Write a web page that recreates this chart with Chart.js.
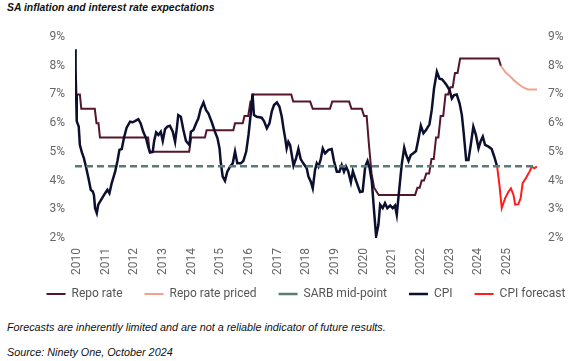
<!DOCTYPE html>
<html>
<head>
<meta charset="utf-8">
<title>SA inflation and interest rate expectations</title>
<script src="https://cdn.jsdelivr.net/npm/chart.js@4.4.1/dist/chart.umd.min.js"></script>
<style>
  html, body { margin: 0; padding: 0; background: #fff; }
  body {
    width: 577px; height: 361px; position: relative; overflow: hidden;
    font-family: "Liberation Sans Narrow", "Liberation Sans", Arial, sans-serif;
    color: #111;
  }
  .title { position: absolute; left: 7px; top: 1px; line-height: 14px; font-size: 10.4px; font-weight: bold; font-style: italic; white-space: nowrap; }
  .note { position: absolute; left: 7px; line-height: 14px; font-size: 10.8px; font-style: italic; white-space: nowrap; }
  #chart-box { position: absolute; left: 0; top: 0; width: 577px; height: 320px; }
</style>
</head>
<body>
<div class="title">SA inflation and interest rate expectations</div>
<div id="chart-box"><canvas id="rates"></canvas></div>
<div class="note" style="top:320px">Forecasts are inherently limited and are not a reliable indicator of future results.</div>
<div class="note" style="top:345px">Source: Ninety One, October 2024</div>

<script>
// Year labels on the x axis
const yearLabels = [2010, 2011, 2012, 2013, 2014, 2015, 2016, 2017, 2018, 2019, 2020, 2021, 2022, 2023, 2024, 2025];
const percentTicks = [2, 3, 4, 5, 6, 7, 8, 9];

// Repo rate (%)
const repoYears = [2009.93, 2010.10, 2010.15, 2010.62, 2010.68, 2010.75, 2010.80, 2012.48, 2012.53, 2013.91,
  2013.98, 2014.46, 2014.52, 2015.45, 2015.51, 2015.78, 2015.84, 2015.97, 2016.05, 2016.10,
  2016.15, 2017.47, 2017.54, 2018.13, 2018.22, 2018.82, 2018.90, 2019.49, 2019.57, 2019.93,
  2020.01, 2020.10, 2020.18, 2020.27, 2020.36, 2020.52, 2021.79, 2021.87, 2021.95, 2022.02,
  2022.10, 2022.18, 2022.28, 2022.36, 2022.44, 2022.52, 2022.60, 2022.68, 2022.77, 2022.85,
  2022.94, 2023.02, 2023.10, 2023.18, 2023.27, 2023.36, 2024.70, 2024.78];
const repoValues = [7.0, 7.0, 6.5, 6.5, 6.0, 6.0, 5.5, 5.5, 5.0, 5.0,
  5.5, 5.5, 5.75, 5.75, 6.0, 6.0, 6.25, 6.25, 6.75, 6.75,
  7.0, 7.0, 6.75, 6.75, 6.5, 6.5, 6.75, 6.75, 6.5, 6.5,
  6.25, 6.25, 5.25, 4.25, 3.75, 3.5, 3.5, 3.75, 3.75, 4.0,
  4.0, 4.25, 4.25, 4.75, 4.75, 5.5, 5.5, 6.25, 6.25, 7.0,
  7.0, 7.25, 7.25, 7.75, 7.75, 8.25, 8.25, 8.0];

// Market-priced repo path
const pricedYears = [2024.78, 2024.86, 2024.95, 2025.05, 2025.15, 2025.25, 2025.35, 2025.45, 2025.55, 2025.65, 2025.75, 2026.04];
const pricedValues = [8.0, 7.88, 7.76, 7.68, 7.58, 7.48, 7.40, 7.32, 7.25, 7.20, 7.17, 7.17];

// SARB inflation target mid-point
const sarbYears = [2009.93, 2026.04];
const sarbValues = [4.5, 4.5];

// Headline CPI (% y/y)
const cpiYears = [2009.93, 2009.95, 2009.97, 2009.99, 2010.06, 2010.10, 2010.17, 2010.24, 2010.31, 2010.40,
  2010.48, 2010.55, 2010.59, 2010.63, 2010.69, 2010.74, 2010.86, 2010.98, 2011.06, 2011.13,
  2011.21, 2011.33, 2011.41, 2011.48, 2011.56, 2011.64, 2011.73, 2011.85, 2011.94, 2012.02,
  2012.14, 2012.22, 2012.31, 2012.41, 2012.49, 2012.55, 2012.64, 2012.69, 2012.76, 2012.84,
  2012.92, 2012.99, 2013.07, 2013.15, 2013.24, 2013.34, 2013.42, 2013.48, 2013.53, 2013.62,
  2013.71, 2013.80, 2013.92, 2013.97, 2014.06, 2014.15, 2014.23, 2014.31, 2014.41, 2014.50,
  2014.58, 2014.70, 2014.81, 2014.90, 2014.97, 2015.01, 2015.08, 2015.16, 2015.24, 2015.34,
  2015.43, 2015.51, 2015.59, 2015.71, 2015.80, 2015.90, 2015.98, 2016.06, 2016.12, 2016.17,
  2016.27, 2016.44, 2016.52, 2016.62, 2016.71, 2016.79, 2016.87, 2016.97, 2017.06, 2017.14,
  2017.20, 2017.26, 2017.31, 2017.37, 2017.43, 2017.49, 2017.55, 2017.64, 2017.72, 2017.80,
  2017.89, 2018.01, 2018.07, 2018.15, 2018.22, 2018.30, 2018.36, 2018.42, 2018.50, 2018.57,
  2018.65, 2018.77, 2018.88, 2018.96, 2019.06, 2019.15, 2019.23, 2019.31, 2019.38, 2019.46,
  2019.55, 2019.62, 2019.70, 2019.78, 2019.87, 2019.96, 2020.05, 2020.13, 2020.20, 2020.28,
  2020.36, 2020.43, 2020.51, 2020.57, 2020.66, 2020.74, 2020.82, 2020.92, 2021.01, 2021.09,
  2021.15, 2021.24, 2021.32, 2021.41, 2021.48, 2021.56, 2021.64, 2021.73, 2021.82, 2021.91,
  2021.99, 2022.08, 2022.17, 2022.29, 2022.37, 2022.45, 2022.55, 2022.64, 2022.72, 2022.80,
  2022.89, 2022.99, 2023.07, 2023.15, 2023.24, 2023.34, 2023.42, 2023.48, 2023.57, 2023.65,
  2023.73, 2023.82, 2023.91, 2024.00, 2024.08, 2024.15, 2024.23, 2024.35, 2024.46, 2024.55,
  2024.65];
const cpiValues = [8.57, 7.9, 6.98, 6.07, 5.88, 5.24, 4.98, 4.78, 4.49, 4.08,
  3.68, 3.62, 3.5, 3.04, 2.87, 3.16, 3.36, 3.56, 3.68, 3.56,
  3.91, 4.31, 4.68, 5.07, 5.1, 5.5, 5.84, 6.05, 6.03, 6.07,
  6.14, 5.99, 5.7, 5.47, 5.15, 4.98, 5.0, 5.38, 5.68, 5.59,
  5.7, 5.38, 5.79, 5.88, 5.91, 5.7, 5.35, 5.82, 6.28, 6.22,
  5.76, 5.38, 5.24, 5.7, 5.76, 5.99, 6.16, 6.49, 6.72, 6.45,
  6.34, 6.03, 5.7, 5.47, 5.12, 4.66, 4.14, 3.99, 4.31, 4.49,
  4.6, 5.01, 4.6, 4.6, 4.68, 5.01, 5.59, 6.34, 7.03, 6.28,
  6.22, 6.19, 6.07, 5.82, 5.99, 6.4, 6.63, 6.72, 6.57, 6.22,
  5.82, 5.47, 5.12, 5.35, 5.24, 4.89, 4.52, 4.78, 5.1, 4.75,
  4.6, 4.43, 4.14, 3.97, 3.73, 4.37, 4.6, 4.49, 4.75, 5.12,
  4.95, 5.07, 5.1, 4.68, 4.31, 4.31, 4.54, 4.31, 4.49, 4.31,
  3.94, 4.33, 4.08, 3.85, 3.6, 3.62, 4.49, 4.68, 4.45, 3.97,
  2.92, 2.06, 2.46, 3.16, 3.04, 3.21, 3.04, 3.13, 3.04, 3.13,
  2.81, 3.73, 4.54, 5.15, 4.89, 4.68, 4.89, 4.95, 5.03, 5.47,
  5.91, 5.65, 5.76, 5.96, 6.46, 7.21, 7.79, 7.55, 7.53, 7.44,
  7.32, 7.15, 6.86, 6.98, 7.0, 6.69, 6.28, 5.7, 4.72, 4.72,
  5.24, 5.88, 5.59, 5.12, 5.38, 5.53, 5.24, 5.18, 5.1, 4.83,
  4.49];

// CPI forecast
const forecastYears = [2024.65, 2024.73, 2024.81, 2024.93, 2025.05, 2025.13, 2025.22, 2025.28, 2025.39, 2025.47,
  2025.54, 2025.66, 2025.78, 2025.86, 2025.94, 2026.04];
const forecastValues = [4.49, 3.85, 3.04, 3.39, 3.62, 3.73, 3.5, 3.16, 3.18, 3.39,
  3.91, 4.1, 4.31, 4.49, 4.43, 4.49];

const toPoints = (xs, ys) => xs.map((x, i) => ({ x: x, y: ys[i] }));

// centre the legend under the plot area (not the canvas) and pull it up a little
const placeLegend = {
  id: 'placeLegend',
  afterLayout(chart) {
    const lg = chart.legend;
    if (!lg) return;
    const dx = (chart.chartArea.left + chart.chartArea.right) / 2 - (lg.left + lg.right) / 2;
    lg.left += dx;
    lg.right += dx;
    lg.top -= 10;
    lg.bottom -= 10;
  }
};

Chart.defaults.font.family = 'Roboto, "Liberation Sans", Arial, sans-serif';
Chart.defaults.font.size = 12;
Chart.defaults.color = '#666';

const line = (label, xs, ys, color, width, order, extra) => Object.assign({
  label: label,
  data: toPoints(xs, ys),
  borderColor: color,
  backgroundColor: color,
  borderWidth: width,
  pointRadius: 0,
  tension: 0,
  fill: false,
  order: order
}, extra || {});

new Chart(document.getElementById('rates'), {
  type: 'line',
  data: {
    datasets: [
      line('Repo rate', repoYears, repoValues, '#55152c', 2, 3),
      line('Repo rate priced', pricedYears, pricedValues, '#f4a08e', 2, 4),
      line('SARB mid-point', sarbYears, sarbValues, '#5d7b76', 2.5, 0, { borderDash: [7, 4] }),
      line('CPI', cpiYears, cpiValues, '#0c0f2e', 2.5, 1),
      line('CPI forecast', forecastYears, forecastValues, '#ff1c1c', 2, 2)
    ]
  },
  options: {
    responsive: true,
    maintainAspectRatio: false,
    animation: false,
    layout: { padding: { top: 37, left: 0, right: 0, bottom: 0 } },
    plugins: {
      tooltip: { enabled: false },
      legend: {
        position: 'bottom',
        labels: {
          usePointStyle: true,
          pointStyle: 'line',
          pointStyleWidth: 19,
          padding: 22,
          color: '#555',
          font: { size: 12 },
          sort: (a, b) => a.datasetIndex - b.datasetIndex
        }
      }
    },
    scales: {
      x: {
        type: 'linear',
        min: 2009.93,
        max: 2026.04,
        grid: { display: false, drawTicks: false },
        border: { display: false },
        afterBuildTicks: (scale) => { scale.ticks = yearLabels.map(v => ({ value: v })); },
        afterFit: (scale) => { scale.height = 38; },
        ticks: {
          autoSkip: false,
          minRotation: 90,
          maxRotation: 90,
          padding: 10,
          callback: (v) => String(v)
        }
      },
      y: {
        position: 'left',
        min: 2,
        max: 9,
        grid: { display: false, drawTicks: false },
        border: { display: false },
        afterBuildTicks: (scale) => { scale.ticks = percentTicks.map(v => ({ value: v })); },
        afterFit: (scale) => { scale.width = 75; },
        ticks: { padding: 10, callback: (v) => v + '%' }
      },
      y2: {
        position: 'right',
        min: 2,
        max: 9,
        grid: { display: false, drawTicks: false },
        border: { display: false },
        afterBuildTicks: (scale) => { scale.ticks = percentTicks.map(v => ({ value: v })); },
        afterFit: (scale) => { scale.width = 40; },
        ticks: { padding: 11, callback: (v) => v + '%' }
      }
    }
  },
  plugins: [placeLegend]
});
</script>
</body>
</html>
